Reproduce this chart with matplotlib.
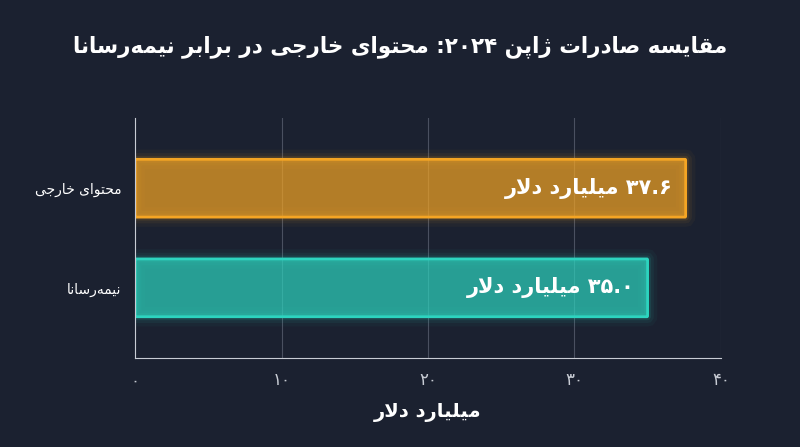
import matplotlib
matplotlib.use("Agg")
import matplotlib.pyplot as plt
from matplotlib.patches import FancyBboxPatch

categories = ["محتوای خارجی", "نیمه\u200cرسانا"]
values = [37.6, 35.0]
value_labels = ["۳۷.۶ میلیارد دلار", "۳۵.۰ میلیارد دلار"]
tick_values = [0, 10, 20, 30, 40]
tick_labels = ["۰", "۱۰", "۲۰", "۳۰", "۴۰"]
title = "مقایسه صادرات ژاپن ۲۰۲۴: محتوای خارجی در برابر نیمه\u200cرسانا"
xlabel = "میلیارد دلار"
colors = ["#f5a524", "#2dd4bf"]

FORMS = {
 'ا': ('\uFE8D', '\uFE8E', None, None), 'ب': ('\uFE8F', '\uFE90', '\uFE91', '\uFE92'),
 'پ': ('\uFB56', '\uFB57', '\uFB58', '\uFB59'), 'ت': ('\uFE95', '\uFE96', '\uFE97', '\uFE98'),
 'ج': ('\uFE9D', '\uFE9E', '\uFE9F', '\uFEA0'), 'ح': ('\uFEA1', '\uFEA2', '\uFEA3', '\uFEA4'),
 'خ': ('\uFEA5', '\uFEA6', '\uFEA7', '\uFEA8'), 'د': ('\uFEA9', '\uFEAA', None, None),
 'ر': ('\uFEAD', '\uFEAE', None, None), 'ژ': ('\uFB8A', '\uFB8B', None, None),
 'س': ('\uFEB1', '\uFEB2', '\uFEB3', '\uFEB4'), 'ص': ('\uFEB9', '\uFEBA', '\uFEBB', '\uFEBC'),
 'ق': ('\uFED5', '\uFED6', '\uFED7', '\uFED8'), 'ل': ('\uFEDD', '\uFEDE', '\uFEDF', '\uFEE0'),
 'م': ('\uFEE1', '\uFEE2', '\uFEE3', '\uFEE4'), 'ن': ('\uFEE5', '\uFEE6', '\uFEE7', '\uFEE8'),
 'ه': ('\uFEE9', '\uFEEA', '\uFEEB', '\uFEEC'), 'و': ('\uFEED', '\uFEEE', None, None),
 'ی': ('\uFBFC', '\uFBFD', '\uFBFE', '\uFBFF'),
}

def dual(c):
    return c in FORMS and FORMS[c][2] is not None

def shape_word(w):
    out = []
    i = 0
    n = len(w)
    while i < n:
        c = w[i]
        if c not in FORMS:
            if c != '\u200c':
                out.append(c)
            i += 1
            continue
        jp = i > 0 and dual(w[i-1])
        if c == 'ل' and i + 1 < n and w[i+1] == 'ا':
            out.append('\uFEFC' if jp else '\uFEFB')
            i += 2
            continue
        jn = dual(c) and i + 1 < n and w[i+1] in FORMS
        f = FORMS[c]
        if jp and jn: g = f[3]
        elif jp: g = f[1]
        elif jn: g = f[2]
        else: g = f[0]
        out.append(g)
        i += 1
    if any(ch in FORMS for ch in w):
        return ''.join(reversed(out))
    s = ''.join(out)
    if s.endswith(':'):
        s = ':' + s[:-1]
    return s

def fa(s):
    return ' '.join(shape_word(w) for w in reversed(s.split(' ')))

plt.rcParams['font.family'] = ['DejaVu Sans']
BG = "#1b2130"
fig = plt.figure(figsize=(8, 4.47), dpi=100, facecolor=BG)
ax = fig.add_axes([0.169, 0.2, 0.732, 0.535], facecolor=BG)

ypos = [1, 0]
for y, v, c in zip(ypos, values, colors):
    for lw, a in [(14, 0.04), (9, 0.06), (5, 0.1)]:
        ax.add_patch(FancyBboxPatch((0, y - 0.29), v, 0.58, boxstyle="round,pad=0,rounding_size=0.05",
                                    fc='none', ec=c, lw=lw, alpha=a, mutation_aspect=1/40*8))
    ax.add_patch(FancyBboxPatch((0, y - 0.29), v, 0.58, boxstyle="round,pad=0,rounding_size=0.05",
                                fc=c, ec='none', alpha=0.7, mutation_aspect=1/40*8))
    ax.add_patch(FancyBboxPatch((0, y - 0.29), v, 0.58, boxstyle="round,pad=0,rounding_size=0.05",
                                fc='none', ec=c, lw=2, mutation_aspect=1/40*8))
for y, v, lab in zip(ypos, values, value_labels):
    ax.text(v - 0.9, y, fa(lab), color='white', fontsize=15, fontweight='bold', ha='right', va='center')

ax.set_xlim(0, 40)
ax.set_ylim(-0.7, 1.7)
ax.set_yticks(ypos)
ax.set_yticklabels([fa(c) for c in categories], color='white', fontsize=10)
ax.set_xticks(tick_values)
ax.set_xticklabels(tick_labels, color='#c8ccd4', fontsize=12)
ax.tick_params(length=0, pad=10)
ax.grid(axis='x', color='#4a5060', lw=0.8)
ax.set_axisbelow(True)
for s in ['top', 'right']:
    ax.spines[s].set_visible(False)
for s in ['left', 'bottom']:
    ax.spines[s].set_color('#c8ccd4')
ax.set_xlabel(fa(xlabel), color='white', fontsize=14, fontweight='bold', labelpad=10)
fig.text(0.5, 0.895, fa(title), color='white', fontsize=15.5, fontweight='bold', ha='center', va='center')
fig.savefig("out.png", dpi=100, facecolor=BG)
